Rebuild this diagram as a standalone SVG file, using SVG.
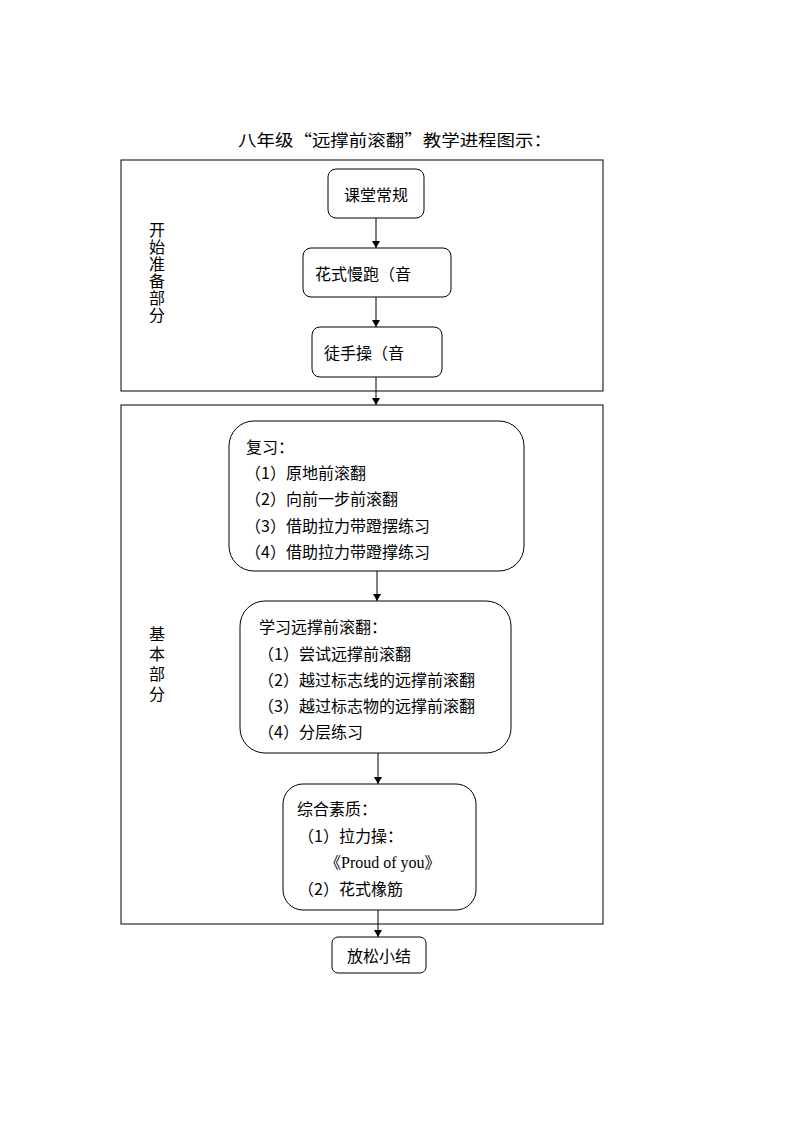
<svg xmlns="http://www.w3.org/2000/svg" width="794" height="1123" viewBox="0 0 794 1123">
<defs>
<marker id="ah" markerWidth="8" markerHeight="8" refX="7" refY="4" orient="auto" markerUnits="userSpaceOnUse"><path d="M0,0 L7,4 L0,8 Z" fill="#000"/></marker>
<style>
.t{font-family:"Noto Sans CJK SC","Liberation Sans",sans-serif;font-size:16px;fill:#000}
.v{font-family:"Noto Sans CJK SC","Liberation Sans",sans-serif;font-size:16px;fill:#000;writing-mode:vertical-rl}
.s{font-family:"Liberation Serif","Noto Sans CJK SC",serif;font-size:16px;fill:#000}
.b{fill:#fff;stroke:#000;stroke-width:1}
.c{stroke:#000;stroke-width:1;fill:none;marker-end:url(#ah)}
</style>
</defs>
<rect width="794" height="1123" fill="#fff"/>
<text class="t" x="238" y="146" textLength="314" lengthAdjust="spacingAndGlyphs">八年级“远撑前滚翻”教学进程图示：</text>
<g id="section1"><rect class="b" x="121" y="160" width="482" height="231"/>
<text class="v" x="157" y="222" letter-spacing="1">开始准备部分</text></g>
<g id="section2"><rect class="b" x="121" y="405" width="482" height="519"/>
<text class="v" x="157" y="626" letter-spacing="4">基本部分</text></g>
<g id="n1"><rect class="b" x="328" y="169" width="96" height="49" rx="8"/><text class="t" x="376" y="201" text-anchor="middle">课堂常规</text></g>
<g id="n2"><rect class="b" x="303" y="248" width="148" height="49" rx="8"/><text class="t" x="315" y="280">花式慢跑（音</text></g>
<g id="n3"><rect class="b" x="312" y="327" width="130" height="50" rx="8"/><text class="t" x="324" y="359">徒手操（音</text></g>
<g id="n4"><rect class="b" x="229" y="421" width="295" height="150" rx="25"/>
<text class="t" x="246" y="453">复习：</text>
<text class="t" x="245" y="479">（1）原地前滚翻</text>
<text class="t" x="245" y="505">（2）向前一步前滚翻</text>
<text class="t" x="245" y="532">（3）借助拉力带蹬摆练习</text>
<text class="t" x="245" y="558">（4）借助拉力带蹬撑练习</text></g>
<g id="n5"><rect class="b" x="240" y="601" width="271" height="152" rx="25"/>
<text class="t" x="259" y="633">学习远撑前滚翻：</text>
<text class="t" x="258" y="660">（1）尝试远撑前滚翻</text>
<text class="t" x="258" y="686">（2）越过标志线的远撑前滚翻</text>
<text class="t" x="258" y="712">（3）越过标志物的远撑前滚翻</text>
<text class="t" x="258" y="738">（4）分层练习</text></g>
<g id="n6"><rect class="b" x="283" y="784" width="193" height="126" rx="20"/>
<text class="t" x="297" y="815">综合素质：</text>
<text class="t" x="298" y="842">（1）拉力操：</text>
<text class="s" x="325" y="868">《Proud of you》</text>
<text class="t" x="298" y="895">（2）花式橡筋</text></g>
<g id="n7"><rect class="b" x="332" y="937" width="94" height="36" rx="6"/><text class="t" x="379" y="962" text-anchor="middle">放松小结</text></g>
<g id="connectors">
<line class="c" x1="376" y1="218" x2="376" y2="248"/>
<line class="c" x1="376" y1="297" x2="376" y2="327"/>
<line class="c" x1="376" y1="377" x2="376" y2="405"/>
<line class="c" x1="377" y1="571" x2="377" y2="601"/>
<line class="c" x1="378" y1="753" x2="378" y2="784"/>
<line class="c" x1="378" y1="910" x2="378" y2="937"/>
</g>
</svg>
